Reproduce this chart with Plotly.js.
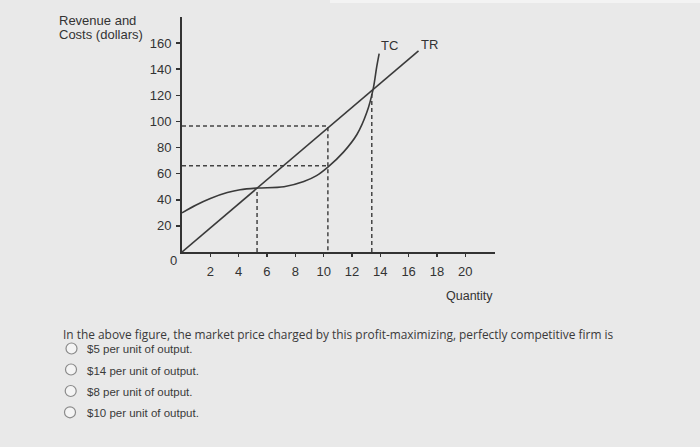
<!DOCTYPE html>
<html>
<head>
<meta charset="utf-8">
<script src="https://cdn.plot.ly/plotly-3.0.1.min.js"></script>
<style>
  html, body { margin: 0; padding: 0; background: #e9e9e9; }
  #chart { width: 700px; height: 447px; }
</style>
</head>
<body>
<div id="chart"></div>
<script>
// values
var tcQty = [0, 1, 2, 3.2, 4.1, 5.3, 7.2, 8.6, 9.5, 10.3, 11.4, 12.35, 13.05, 13.5, 13.75, 13.92];
var tcVal = [30, 36, 41, 45.5, 47.7, 49, 50, 54, 58.5, 65, 76.5, 90, 107, 125, 142, 152];
var trQty = [0, 16.7];
var trVal = [0, 154];

// dashed guide lines
var upperGuide = { q: [0, 10.3, 10.3], v: [96.5, 96.5, 0] };
var lowerGuide = { q: [0, 10.3], v: [66, 66] };
var breakEvenLow = { q: [5.3, 5.3], v: [0, 49] };
var breakEvenHigh = { q: [13.4, 13.4], v: [0, 124] };

var xTicks = [2, 4, 6, 8, 10, 12, 14, 16, 18, 20];
var yTicks = [20, 40, 60, 80, 100, 120, 140, 160];

var question = 'In the above figure, the market price charged by this profit-maximizing, perfectly competitive firm is';
var choices = ['$5 per unit of output.', '$14 per unit of output.', '$8 per unit of output.', '$10 per unit of output.'];

// plot area in page pixels
var L = 182, R = 495, T = 17, B = 252;
function px(x) { return (x - L) / (R - L); }
function py(y) { return (B - y) / (B - T); }

var ink = '#333333';
var dash = { color: '#444444', width: 1.5, dash: '4px,3px' };

var traces = [
    { x: upperGuide.q, y: upperGuide.v, mode: 'lines', line: dash, hoverinfo: 'skip' },
    { x: lowerGuide.q, y: lowerGuide.v, mode: 'lines', line: dash, hoverinfo: 'skip' },
    { x: breakEvenLow.q, y: breakEvenLow.v, mode: 'lines', line: dash, hoverinfo: 'skip' },
    { x: breakEvenHigh.q, y: breakEvenHigh.v, mode: 'lines', line: dash, hoverinfo: 'skip' },
    { x: trQty, y: trVal, mode: 'lines', name: 'TR', line: { color: '#3a3a3a', width: 1.6 } },
    { x: tcQty, y: tcVal, mode: 'lines', name: 'TC', line: { color: '#3a3a3a', width: 1.6, shape: 'spline', smoothing: 1 } }
];

var font = { family: 'Liberation Sans, Arial, sans-serif', size: 13, color: ink };

var annotations = [
    { text: 'Revenue and', x: px(57), y: py(20.5), xanchor: 'left', yanchor: 'middle' },
    { text: 'Costs (dollars)', x: px(57), y: py(34.5), xanchor: 'left', yanchor: 'middle' },
    { text: '0', x: px(173), y: py(260.5), xanchor: 'center', yanchor: 'middle' },
    { text: 'TC', x: px(389), y: py(46), xanchor: 'center', yanchor: 'middle' },
    { text: 'TR', x: px(429), y: py(45), xanchor: 'center', yanchor: 'middle' },
    { text: 'Quantity', x: px(469), y: py(296), xanchor: 'center', yanchor: 'middle', font: { family: font.family, size: 12.5, color: ink } },
    { text: question, x: px(61), y: py(334), xanchor: 'left', yanchor: 'middle',
      font: { family: 'Open Sans, sans-serif', size: 11.9, color: '#3a3a3a' } }
];

var optionY = [348.5, 369.5, 391, 412.3];
var optionX = [71.5, 71, 70.7, 70];
var shapes = [
    { type: 'rect', xref: 'paper', yref: 'paper', x0: px(330), x1: px(700), y0: py(0), y1: py(3),
      fillcolor: '#f3f3f3', line: { width: 0 } }
];

choices.forEach(function (c, i) {
    annotations.push({ text: c, x: px(84.5), y: py(optionY[i] + 1), xanchor: 'left', yanchor: 'middle',
        font: { family: font.family, size: 11.5, color: '#3a3a3a' } });
    shapes.push({ type: 'circle', xref: 'paper', yref: 'paper',
        x0: px(optionX[i] - 5.5), x1: px(optionX[i] + 5.5), y0: py(optionY[i] + 5.5), y1: py(optionY[i] - 5.5),
        line: { color: '#8a8a8a', width: 1.2 }, fillcolor: '#f4f4f4' });
});

annotations.forEach(function (a) {
    a.xref = 'paper';
    a.yref = 'paper';
    a.showarrow = false;
    if (!a.font) a.font = font;
});

var layout = {
    width: 700,
    height: 447,
    margin: { l: L, r: 700 - R, t: T, b: 447 - B, pad: 0 },
    paper_bgcolor: '#e9e9e9',
    plot_bgcolor: '#e9e9e9',
    showlegend: false,
    font: font,
    xaxis: {
        range: [0, 22.1],
        tickvals: xTicks,
        ticks: 'outside', ticklen: 3, tickwidth: 1.5, tickcolor: ink,
        ticklabelstandoff: 3,
        showline: true, linecolor: ink, linewidth: 2,
        showgrid: false, zeroline: false, fixedrange: true
    },
    yaxis: {
        range: [0, 180],
        tickvals: yTicks,
        ticks: 'outside', ticklen: 4, tickwidth: 1.5, tickcolor: ink,
        ticklabelstandoff: 2,
        showline: true, linecolor: ink, linewidth: 2,
        showgrid: false, zeroline: false, fixedrange: true
    },
    annotations: annotations,
    shapes: shapes
};

Plotly.newPlot('chart', traces, layout, { displayModeBar: false, staticPlot: true });
</script>
</body>
</html>
